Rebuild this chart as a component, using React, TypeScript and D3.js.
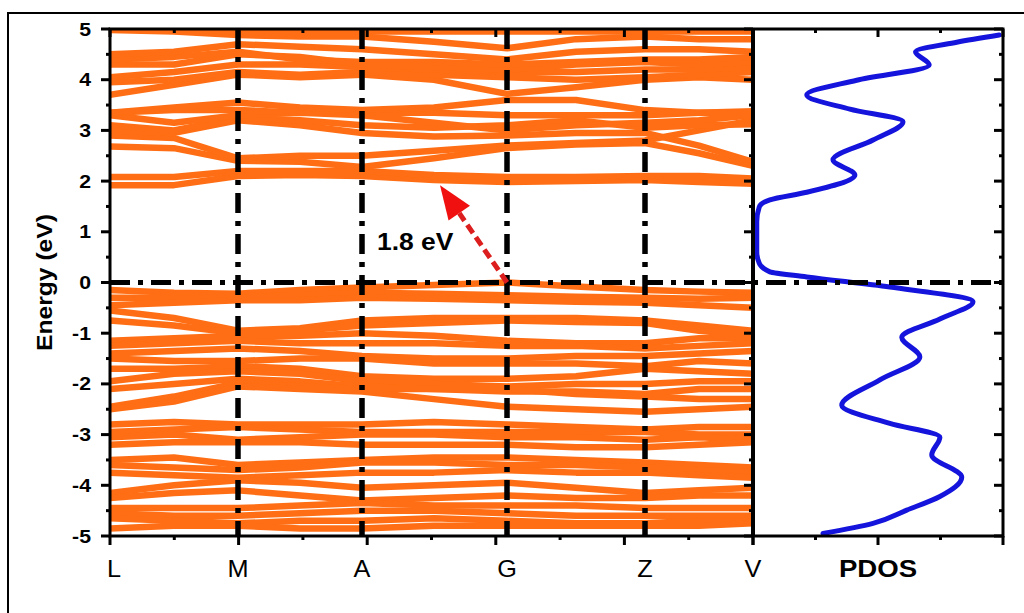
import * as d3 from "d3";

const FONT = "Arial, 'Liberation Sans', sans-serif";

// high-symmetry points along the k-path (path length units)
const kLabels = ["L", "M", "A", "G", "Z", "V"];
const kPoints = [0, 128, 252, 397, 535, 643];
// sampling positions of every band (high-symmetry points + mid points)
const kSample = [0, 64, 128, 190, 252, 324, 397, 466, 535, 589, 643];

// band energies (eV) at kSample
const conductionBands = [
  [1.92, 1.92, 2.1, 2.12, 2.1, 2.02, 1.98, 2.0, 2.02, 1.98, 1.95],
  [2.08, 2.08, 2.2, 2.2, 2.2, 2.12, 2.08, 2.08, 2.1, 2.1, 2.05],
  [2.68, 2.65, 2.4, 2.38, 2.28, 2.45, 2.65, 2.72, 2.75, 2.55, 2.3],
  [2.9, 2.85, 2.45, 2.5, 2.5, 2.6, 2.7, 2.75, 2.8, 3.0, 3.2],
  [3.0, 2.95, 3.2, 3.1, 2.95, 2.88, 2.9, 2.95, 2.95, 2.7, 2.38],
  [3.1, 3.0, 3.25, 3.2, 3.1, 3.05, 3.1, 3.2, 3.05, 3.1, 3.12],
  [3.3, 3.15, 3.3, 3.35, 3.3, 3.15, 3.0, 3.1, 3.15, 3.2, 3.3],
  [3.35, 3.4, 3.4, 3.35, 3.35, 3.35, 3.3, 3.3, 3.3, 3.35, 3.38],
  [3.35, 3.45, 3.55, 3.45, 3.4, 3.45, 3.6, 3.6, 3.4, 3.35, 3.35],
  [3.7, 3.9, 4.1, 4.05, 4.1, 4.0, 3.72, 3.85, 4.0, 4.05, 4.0],
  [3.95, 4.0, 4.15, 4.1, 4.15, 4.1, 4.05, 4.0, 4.05, 4.1, 4.15],
  [4.05, 4.15, 4.3, 4.3, 4.25, 4.2, 4.15, 4.15, 4.2, 4.2, 4.25],
  [4.3, 4.3, 4.5, 4.45, 4.3, 4.25, 4.2, 4.3, 4.35, 4.3, 4.35],
  [4.4, 4.45, 4.55, 4.4, 4.35, 4.35, 4.3, 4.35, 4.4, 4.4, 4.45],
  [4.5, 4.55, 4.7, 4.65, 4.6, 4.5, 4.4, 4.55, 4.6, 4.6, 4.55],
  [4.98, 4.95, 4.88, 4.85, 4.85, 4.75, 4.62, 4.8, 4.85, 4.8, 4.8],
  [5.0, 5.0, 4.95, 4.95, 4.95, 4.95, 4.95, 4.95, 4.95, 4.95, 4.95],
];

const valenceBands = [
  [-0.15, -0.2, -0.22, -0.15, -0.1, -0.05, 0.0, -0.08, -0.15, -0.18, -0.2],
  [-0.3, -0.3, -0.3, -0.25, -0.2, -0.22, -0.25, -0.28, -0.3, -0.32, -0.3],
  [-0.45, -0.4, -0.35, -0.35, -0.3, -0.32, -0.35, -0.38, -0.4, -0.45, -0.5],
  [-0.55, -0.7, -0.95, -0.9, -0.75, -0.7, -0.7, -0.7, -0.75, -0.85, -0.95],
  [-0.75, -0.85, -1.0, -0.95, -0.85, -0.8, -0.75, -0.78, -0.8, -0.95, -1.05],
  [-1.15, -1.1, -1.05, -1.05, -1.0, -1.05, -1.15, -1.2, -1.2, -1.1, -1.1],
  [-1.25, -1.2, -1.15, -1.2, -1.2, -1.2, -1.25, -1.25, -1.3, -1.25, -1.2],
  [-1.4, -1.35, -1.3, -1.35, -1.45, -1.5, -1.5, -1.45, -1.45, -1.4, -1.35],
  [-1.5, -1.55, -1.55, -1.5, -1.5, -1.6, -1.6, -1.6, -1.65, -1.55, -1.6],
  [-1.7, -1.7, -1.65, -1.7, -1.85, -1.9, -1.9, -1.85, -1.7, -1.75, -1.8],
  [-1.95, -1.8, -1.75, -1.8, -1.95, -2.0, -2.05, -2.0, -2.0, -1.95, -1.95],
  [-2.1, -2.0, -1.9, -1.95, -2.05, -2.1, -2.15, -2.15, -2.2, -2.1, -2.1],
  [-2.45, -2.25, -1.98, -2.05, -2.1, -2.1, -2.1, -2.2, -2.25, -2.3, -2.3],
  [-2.5, -2.35, -2.05, -2.1, -2.15, -2.3, -2.45, -2.5, -2.55, -2.5, -2.45],
  [-2.8, -2.75, -2.8, -2.8, -2.8, -2.75, -2.8, -2.85, -2.9, -2.85, -2.85],
  [-2.95, -2.9, -2.85, -2.9, -2.95, -2.95, -2.95, -2.95, -2.95, -3.0, -3.0],
  [-3.05, -3.0, -3.1, -3.05, -3.0, -3.0, -3.05, -3.05, -3.1, -3.05, -3.1],
  [-3.2, -3.15, -3.15, -3.15, -3.2, -3.2, -3.2, -3.25, -3.25, -3.2, -3.15],
  [-3.5, -3.45, -3.6, -3.55, -3.5, -3.45, -3.45, -3.5, -3.55, -3.6, -3.65],
  [-3.6, -3.65, -3.7, -3.65, -3.55, -3.55, -3.6, -3.6, -3.65, -3.7, -3.75],
  [-3.75, -3.8, -3.85, -3.8, -3.75, -3.75, -3.7, -3.75, -3.75, -3.8, -3.85],
  [-4.15, -4.0, -3.9, -3.95, -4.05, -4.0, -3.95, -4.05, -4.15, -4.1, -4.05],
  [-4.25, -4.15, -4.1, -4.2, -4.3, -4.25, -4.2, -4.25, -4.25, -4.2, -4.2],
  [-4.45, -4.45, -4.45, -4.4, -4.35, -4.4, -4.4, -4.4, -4.45, -4.45, -4.45],
  [-4.55, -4.6, -4.6, -4.55, -4.5, -4.5, -4.55, -4.6, -4.6, -4.6, -4.6],
  [-4.65, -4.7, -4.75, -4.7, -4.7, -4.65, -4.7, -4.75, -4.75, -4.7, -4.7],
  [-4.85, -4.8, -4.8, -4.85, -4.85, -4.8, -4.8, -4.8, -4.8, -4.8, -4.75],
];

// projected density of states (arb. units) vs energy
const pdosEnergy = [
  4.88, 4.74, 4.55, 4.29, 3.99, 3.7, 3.42, 3.17, 2.81, 2.42, 2.12, 1.78, 1.63,
  1.49, 1.2, 0.6, 0.38, 0.21, 0.11, -0.09, -0.38, -0.72, -1.08, -1.47, -1.92,
  -2.42, -2.78, -3.05, -3.4, -3.84, -4.22, -4.49, -4.75, -4.95,
];
const pdosValue = [
  3.94, 3.26, 2.6, 2.82, 1.66, 0.86, 1.55, 2.4, 1.92, 1.28, 1.63, 0.86, 0.27,
  0.1, 0.06, 0.06, 0.1, 0.27, 0.86, 2.19, 3.52, 2.99, 2.38, 2.67, 2.03, 1.42,
  2.19, 2.99, 2.86, 3.34, 2.99, 2.46, 1.92, 1.12,
];

const energyTicks = [5, 4, 3, 2, 1, 0, -1, -2, -3, -4, -5];
const gapLabel = "1.8 eV";

const x0 = 110;
const xV = 753;
const xR = 1003;
const yTop = 29;
const yBot = 536;

const kScale = d3.scaleLinear().domain([0, 643]).range([x0, xV]);
const eScale = d3.scaleLinear().domain([-5, 5]).range([yBot, yTop]);
const dosScale = d3.scaleLinear().domain([0, 4]).range([xV, xR]);

const bandLine = d3
  .line<number>()
  .x((_, i) => kScale(kSample[i]))
  .y((d) => eScale(d));

const pdosLine = d3
  .line<number>()
  .x((d) => dosScale(d))
  .y((_, i) => eScale(pdosEnergy[i]))
  .curve(d3.curveMonotoneY);

const Txt = ({ x, y, size, weight = "normal", anchor = "middle", sx = 1, rotate = 0, fill = "#000", children }: any) => (
  <text
    transform={`translate(${x},${y}) rotate(${rotate}) scale(${sx},1)`}
    fontSize={size}
    fontWeight={weight}
    textAnchor={anchor}
    fontFamily={FONT}
    fill={fill}
  >
    {children}
  </text>
);

export default function App() {
  const minorE = d3.range(-4.5, 5, 1);
  const kTicks = d3.range(0, 11).map((i) => (i * 643) / 10);
  const dosTicks = [0, 1, 2, 3, 4];

  // arrow from VBM (G, 0) to conduction band
  const ax1 = kScale(397), ay1 = eScale(0);
  const ax2 = kScale(330), ay2 = eScale(1.92);
  const ang = Math.atan2(ay2 - ay1, ax2 - ax1);
  const hl = 34, hw = 13;
  const bx = ax2 - hl * Math.cos(ang), by = ay2 - hl * Math.sin(ang);
  const head = [
    [ax2, ay2],
    [bx + hw * Math.sin(ang), by - hw * Math.cos(ang)],
    [bx - hw * Math.sin(ang), by + hw * Math.cos(ang)],
  ];

  const dash = "20 8 5 8";

  return (
    <>
      <style>{"body{margin:0}"}</style>
      <svg width={1024} height={613} style={{ display: "block", background: "#fff" }}>
        <defs>
          <clipPath id="bandClip">
            <rect x={x0} y={yTop} width={xV - x0} height={yBot - yTop} />
          </clipPath>
          <clipPath id="dosClip">
            <rect x={xV} y={yTop} width={xR - xV} height={yBot - yTop} />
          </clipPath>
        </defs>

        {/* outer frame */}
        <rect x={8} y={13} width={1040} height={640} fill="none" stroke="#000" strokeWidth={2} />

        {/* bands */}
        <g clipPath="url(#bandClip)" fill="none" stroke="#FF6E14" strokeWidth={6.5} strokeLinejoin="round">
          {conductionBands.concat(valenceBands).map((b, i) => (
            <path key={i} d={bandLine(b) || ""} />
          ))}
        </g>

        {/* PDOS */}
        <g clipPath="url(#dosClip)">
          <path d={pdosLine(pdosValue) || ""} fill="none" stroke="#1414DC" strokeWidth={5} strokeLinecap="round" />
        </g>

        {/* high-symmetry lines */}
        {kPoints.slice(1, -1).map((k) => (
          <line key={k} x1={kScale(k)} x2={kScale(k)} y1={yTop} y2={yBot} stroke="#000" strokeWidth={5.5} strokeDasharray={dash} />
        ))}
        {/* Fermi level */}
        <line x1={x0} x2={xR} y1={eScale(0)} y2={eScale(0)} stroke="#000" strokeWidth={5} strokeDasharray={dash} />

        {/* axes frames */}
        <g stroke="#000" strokeWidth={3} fill="none">
          <rect x={x0} y={yTop} width={xR - x0} height={yBot - yTop} />
          <line x1={xV} x2={xV} y1={yTop} y2={yBot} strokeWidth={4} />
        </g>

        {/* energy ticks */}
        <g stroke="#000" strokeWidth={3}>
          {energyTicks.map((e) => (
            <g key={e}>
              <line x1={x0 - 9} x2={x0} y1={eScale(e)} y2={eScale(e)} />
              <line x1={xV - 9} x2={xV} y1={eScale(e)} y2={eScale(e)} />
              <line x1={xR - 9} x2={xR} y1={eScale(e)} y2={eScale(e)} />
            </g>
          ))}
          {minorE.map((e) => (
            <g key={e}>
              <line x1={x0 - 4} x2={x0} y1={eScale(e)} y2={eScale(e)} />
              <line x1={xV - 4} x2={xV} y1={eScale(e)} y2={eScale(e)} />
              <line x1={xR - 4} x2={xR} y1={eScale(e)} y2={eScale(e)} />
            </g>
          ))}
          {kTicks.map((k, i) => (
            <g key={i}>
              <line x1={kScale(k)} x2={kScale(k)} y1={yBot} y2={yBot + (i % 2 === 0 ? 9 : 4)} />
              <line x1={kScale(k)} x2={kScale(k)} y1={yTop} y2={yTop + (i % 2 === 0 ? 8 : 4)} />
            </g>
          ))}
          {dosTicks.map((d, i) => (
            <g key={i}>
              <line x1={dosScale(d)} x2={dosScale(d)} y1={yBot} y2={yBot + (i % 2 === 0 ? 9 : 4)} />
              <line x1={dosScale(d)} x2={dosScale(d)} y1={yTop} y2={yTop + (i % 2 === 0 ? 8 : 4)} />
            </g>
          ))}
        </g>

        {/* energy tick labels */}
        {energyTicks.map((e) => (
          <Txt key={e} x={91} y={eScale(e) + 6.5} size={18} weight="bold" anchor="end" sx={1.18}>
            {e}
          </Txt>
        ))}
        <Txt x={52} y={eScale(0)} size={22} weight="bold" rotate={-90} sx={1.12}>
          Energy (eV)
        </Txt>

        {/* k-point labels */}
        {kLabels.map((l, i) => (
          <Txt key={l} x={kScale(kPoints[i]) + (i === 0 ? 4 : 0)} y={577} size={23} sx={1.1}>
            {l}
          </Txt>
        ))}
        <Txt x={dosScale(2)} y={577} size={24} weight="bold" sx={1.15}>
          PDOS
        </Txt>

        {/* band gap arrow */}
        <line x1={ax1} y1={ay1} x2={bx} y2={by} stroke="#DC1E1E" strokeWidth={5} strokeDasharray="10 5" />
        <polygon points={head.map((p) => p.join(",")).join(" ")} fill="#F01010" />
        <Txt x={kScale(267)} y={eScale(0.64)} size={23} weight="bold" anchor="start" sx={1.15}>
          {gapLabel}
        </Txt>
      </svg>
    </>
  );
}
